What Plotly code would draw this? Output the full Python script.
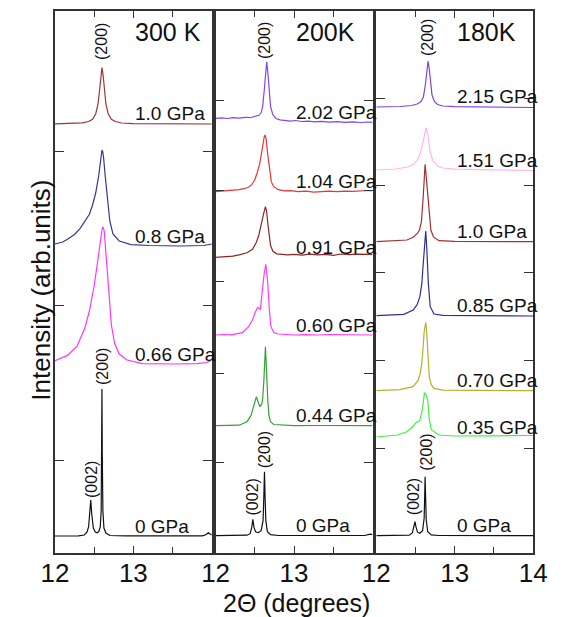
import plotly.graph_objects as go

# ---------------- data (2-theta in degrees, intensity in arb. units) ----------------
# 300 K panel
P300_LABELS = ["1.0 GPa", "0.8 GPa", "0.66 GPa", "0 GPa"]
P300_OFFSETS = [42.9, 30.7, 18.9, 1.7]
P300_X = [
    [12.00, 12.20, 12.35, 12.43, 12.48, 12.52, 12.55, 12.57, 12.585, 12.60, 12.615, 12.63, 12.65, 12.68, 12.72, 12.77, 12.85, 13.00, 13.40, 14.00],
    [12.00, 12.10, 12.16, 12.25, 12.32, 12.38, 12.44, 12.48, 12.52, 12.56, 12.58, 12.59, 12.60, 12.61, 12.62, 12.64, 12.66, 12.675, 12.70, 12.74, 12.82, 12.97, 13.20, 13.60, 13.90, 14.00],
    [12.00, 12.16, 12.28, 12.38, 12.44, 12.50, 12.54, 12.58, 12.60, 12.61, 12.62, 12.63, 12.66, 12.69, 12.72, 12.76, 12.82, 12.92, 13.12, 13.53, 13.81, 13.94, 14.00],
    [12.00, 12.30, 12.375, 12.41, 12.43, 12.445, 12.457, 12.47, 12.49, 12.515, 12.537, 12.56, 12.578, 12.59, 12.596, 12.60, 12.604, 12.612, 12.625, 12.65, 12.70, 12.90, 13.88, 13.93, 13.955, 13.98, 14.00],
]
P300_Y = [
    [0.02, 0.04, 0.11, 0.25, 0.48, 1.0, 2.0, 3.4, 4.85, 5.64, 4.85, 3.4, 2.0, 1.0, 0.48, 0.25, 0.1, 0.04, 0.01, 0.0],
    [0.2, 0.4, 0.67, 1.15, 1.74, 2.4, 3.17, 4.1, 5.3, 7.1, 8.5, 9.2, 9.6, 9.4, 8.9, 7.1, 5.5, 4.6, 2.5, 1.2, 0.5, 0.14, 0.05, 0.0, 0.05, 0.2],
    [0.33, 0.86, 1.76, 3.54, 5.3, 7.8, 9.97, 12.5, 13.4, 13.7, 13.6, 13.2, 10.3, 6.8, 3.9, 2.1, 1.0, 0.4, 0.04, 0.0, 0.04, 0.15, 0.4],
    [0.0, 0.02, 0.1, 0.4, 0.93, 2.2, 3.6, 2.2, 0.8, 0.4, 0.33, 0.45, 0.9, 2.5, 8.0, 14.7, 8.0, 2.5, 0.8, 0.3, 0.05, 0.02, 0.02, 0.15, 0.33, 0.2, 0.1],
]
P300_COLORS = ["#A03333", "#35359A", "#FF35FF", "#111111"]
P300_TICKS = [9.3, 24.75, 40.2]

# 200 K panel
P200_LABELS = ["2.02 GPa", "1.04 GPa", "0.91 GPa", "0.60 GPa", "0.44 GPa", "0 GPa"]
P200_OFFSETS = [43.07, 36.13, 29.57, 21.8, 12.73, 1.73]
P200_X = [
    [12.00, 12.08, 12.15, 12.22, 12.30, 12.38, 12.45, 12.50, 12.55, 12.58, 12.60, 12.62, 12.635, 12.652, 12.67, 12.685, 12.70, 12.73, 12.77, 12.82, 12.88, 12.95, 13.02, 13.10, 13.18, 13.26, 13.35, 13.45, 13.55, 13.65, 13.75, 13.85, 13.93, 14.00],
    [12.00, 12.08, 12.15, 12.22, 12.30, 12.36, 12.42, 12.46, 12.50, 12.53, 12.56, 12.58, 12.60, 12.62, 12.632, 12.645, 12.66, 12.675, 12.69, 12.71, 12.74, 12.80, 12.88, 12.96, 13.05, 13.15, 13.25, 13.35, 13.45, 13.55, 13.65, 13.75, 13.85, 13.93, 14.00],
    [12.00, 12.08, 12.15, 12.22, 12.30, 12.36, 12.40, 12.47, 12.52, 12.55, 12.58, 12.61, 12.635, 12.65, 12.665, 12.68, 12.70, 12.73, 12.78, 12.85, 12.92, 13.00, 13.10, 13.20, 13.30, 13.40, 13.50, 13.60, 13.70, 13.80, 13.90, 14.00],
    [12.00, 12.10, 12.20, 12.28, 12.34, 12.42, 12.47, 12.50, 12.535, 12.57, 12.60, 12.62, 12.64, 12.665, 12.685, 12.705, 12.745, 12.80, 12.90, 13.00, 13.15, 13.30, 13.45, 13.60, 13.75, 13.90, 14.00],
    [12.00, 12.15, 12.30, 12.40, 12.45, 12.48, 12.505, 12.52, 12.54, 12.565, 12.59, 12.60, 12.615, 12.628, 12.635, 12.645, 12.655, 12.665, 12.68, 12.70, 12.74, 12.85, 13.00, 13.30, 13.60, 14.00],
    [12.00, 12.40, 12.44, 12.46, 12.475, 12.49, 12.51, 12.545, 12.58, 12.605, 12.615, 12.623, 12.63, 12.64, 12.66, 12.70, 12.80, 13.90, 13.97, 14.00],
]
P200_Y = [
    [0.40, 0.45, 0.38, 0.46, 0.42, 0.50, 0.48, 0.58, 0.70, 0.95, 1.6, 3.2, 5.0, 6.06, 4.6, 2.9, 1.6, 0.75, 0.38, 0.25, 0.20, 0.12, 0.18, 0.08, 0.12, 0.05, 0.10, 0.02, 0.06, 0.0, 0.04, -0.02, 0.03, 0.0],
    [0.0, 0.04, 0.08, 0.1, 0.2, 0.3, 0.45, 0.7, 1.2, 1.9, 2.7, 3.6, 4.6, 5.5, 5.67, 5.2, 4.0, 2.9, 1.9, 1.0, 0.5, 0.2, 0.08, 0.1, 0.0, 0.05, -0.05, 0.02, 0.05, 0.0, 0.06, 0.04, 0.1, 0.12, 0.1],
    [0.0, 0.05, 0.02, 0.12, 0.25, 0.35, 0.45, 0.8, 1.5, 2.2, 3.4, 4.3, 5.06, 4.6, 3.4, 2.3, 1.2, 0.6, 0.35, 0.3, 0.25, 0.3, 0.22, 0.32, 0.25, 0.3, 0.2, 0.33, 0.27, 0.32, 0.28, 0.3],
    [0.0, 0.05, 0.02, 0.12, 0.23, 0.83, 1.5, 2.17, 2.77, 2.57, 4.83, 6.2, 7.07, 5.17, 2.5, 0.83, 0.23, 0.1, 0.05, 0.0, 0.04, 0.0, 0.05, 0.02, 0.0, 0.03, 0.0],
    [0.0, 0.02, 0.05, 0.4, 1.0, 1.8, 2.7, 2.9, 2.4, 1.9, 2.2, 2.7, 4.5, 6.8, 7.9, 6.3, 4.0, 2.6, 1.0, 0.4, 0.12, 0.05, 0.0, 0.02, 0.0, 0.0],
    [0.0, 0.05, 0.2, 0.8, 1.63, 0.8, 0.4, 0.3, 0.5, 1.5, 4.0, 6.4, 4.0, 1.5, 0.4, 0.1, 0.02, 0.02, 0.15, 0.1],
]
P200_COLORS = ["#8444E6", "#E83535", "#8E2626", "#FF3AFF", "#35A035", "#111111"]
P200_TICKS = [9.1, 18.0, 27.2, 36.3, 45.3]

# 180 K panel
P180_LABELS = ["2.15 GPa", "1.51 GPa", "1.0 GPa", "0.85 GPa", "0.70 GPa", "0.35 GPa", "0 GPa"]
P180_OFFSETS = [44.6, 38.3, 31.13, 23.73, 16.23, 11.6, 1.73]
P180_X = [
    [12.00, 12.30, 12.45, 12.52, 12.57, 12.60, 12.625, 12.645, 12.66, 12.675, 12.69, 12.71, 12.74, 12.78, 12.85, 13.00, 14.00],
    [12.00, 12.25, 12.40, 12.48, 12.53, 12.56, 12.59, 12.61, 12.635, 12.655, 12.67, 12.685, 12.70, 12.73, 12.78, 12.85, 13.00, 13.50, 14.00],
    [12.00, 12.30, 12.39, 12.47, 12.52, 12.55, 12.575, 12.595, 12.61, 12.622, 12.635, 12.65, 12.66, 12.675, 12.695, 12.73, 12.80, 13.00, 14.00],
    [12.00, 12.25, 12.35, 12.47, 12.52, 12.555, 12.58, 12.595, 12.615, 12.63, 12.645, 12.663, 12.687, 12.735, 12.85, 14.00],
    [12.00, 12.30, 12.47, 12.53, 12.56, 12.58, 12.594, 12.61, 12.63, 12.643, 12.655, 12.675, 12.70, 12.735, 12.85, 14.00],
    [12.00, 12.15, 12.27, 12.39, 12.473, 12.505, 12.554, 12.586, 12.60, 12.614, 12.635, 12.655, 12.675, 12.703, 12.80, 13.00, 13.50, 14.00],
    [12.00, 12.42, 12.46, 12.48, 12.493, 12.505, 12.525, 12.554, 12.59, 12.61, 12.617, 12.622, 12.628, 12.636, 12.655, 12.70, 12.80, 14.00],
]
P180_Y = [
    [0.0, 0.05, 0.15, 0.3, 0.55, 1.0, 2.2, 3.8, 4.6, 3.8, 2.4, 1.2, 0.55, 0.25, 0.1, 0.03, -0.05],
    [0.0, 0.1, 0.3, 0.6, 1.1, 1.67, 2.6, 3.5, 4.23, 3.6, 2.6, 1.9, 1.4, 0.8, 0.4, 0.2, 0.08, 0.02, -0.05],
    [0.0, 0.08, 0.17, 0.45, 0.8, 1.17, 2.0, 4.17, 6.6, 7.73, 6.6, 5.0, 4.17, 2.4, 1.17, 0.45, 0.1, 0.03, 0.0],
    [0.0, 0.05, 0.13, 0.57, 1.1, 1.9, 3.2, 4.9, 7.0, 8.47, 6.5, 3.23, 0.9, 0.17, 0.03, -0.03],
    [0.0, 0.1, 0.4, 1.0, 1.73, 2.8, 4.07, 5.9, 6.83, 5.8, 4.07, 1.4, 0.6, 0.23, 0.05, 0.0],
    [0.0, 0.08, 0.2, 0.53, 1.1, 1.43, 1.63, 2.7, 3.7, 4.43, 4.2, 3.7, 1.7, 0.7, 0.2, 0.1, 0.12, 0.15],
    [0.0, 0.05, 0.3, 0.9, 1.4, 0.9, 0.35, 0.24, 0.5, 1.8, 4.0, 5.9, 4.0, 1.6, 0.4, 0.08, 0.02, 0.0],
]
P180_COLORS = ["#7C42DA", "#FFB5F3", "#A33030", "#2E2E98", "#B2B232", "#45EE45", "#111111"]
P180_TICKS = [10.5, 19.3, 28.1, 36.8, 45.5]

TEMPS = ["300 K", "200K", "180K"]
X_TICKS = [12, 13, 14]
X_MINOR = [12.5, 13.5]
Y_RANGE = [0, 54.2]

# peak annotations: (panel, text, x, y) in data units
PEAK_LABELS = [
    (0, "(200)", 12.60, 51.2), (0, "(200)", 12.60, 18.7), (0, "(002)", 12.46, 7.4),
    (1, "(200)", 12.63, 51.2), (1, "(200)", 12.62, 10.3), (1, "(002)", 12.47, 5.6),
    (2, "(200)", 12.66, 51.5), (2, "(200)", 12.63, 10.1), (2, "(002)", 12.47, 5.6),
]

# ---------------- figure ----------------
W, H = 571, 617
FONT = "Liberation Sans, Arial, sans-serif"
panel_px = [(43, 208), (212, 377), (381, 546)]
y_top, y_bot = 11, 553

fig = go.Figure()
panels = [
    (P300_LABELS, P300_OFFSETS, P300_X, P300_Y, P300_COLORS, P300_TICKS),
    (P200_LABELS, P200_OFFSETS, P200_X, P200_Y, P200_COLORS, P200_TICKS),
    (P180_LABELS, P180_OFFSETS, P180_X, P180_Y, P180_COLORS, P180_TICKS),
]

annotations = []
for i, (labels, offsets, xs, ys, colors, yticks) in enumerate(panels):
    sfx = "" if i == 0 else str(i + 1)
    for lab, off, xv, yv, col in zip(labels, offsets, xs, ys, colors):
        fig.add_trace(go.Scatter(
            x=xv, y=[off + v for v in yv], mode="lines",
            line=dict(color=col, width=1.2), xaxis="x" + sfx, yaxis="y" + sfx,
            showlegend=False, hoverinfo="skip"))
        annotations.append(dict(
            x=13.0, y=off + 1.0, xref="x" + sfx, yref="y" + sfx, text=lab,
            showarrow=False, xanchor="left", yanchor="middle",
            font=dict(family=FONT, size=19, color="#111")))
    annotations.append(dict(
        x=13.0, y=Y_RANGE[1] - 2.1, xref="x" + sfx, yref="y" + sfx, text=TEMPS[i],
        showarrow=False, xanchor="left", yanchor="middle",
        font=dict(family=FONT, size=25, color="#111")))

    x0, x1 = panel_px[i]
    ticktext = ["12", "13", "14" if i == 2 else ""]
    fig.update_layout(**{
        "xaxis" + sfx: dict(
            domain=[x0 / W, x1 / W], range=[12, 14], anchor="y" + sfx,
            tickvals=X_TICKS, ticktext=ticktext, ticks="inside", ticklen=7,
            tickwidth=1.3, tickcolor="#333", showline=True, linecolor="#333",
            linewidth=1.6, mirror="ticks", showgrid=False, zeroline=False,
            ticklabelstandoff=-4,
            minor=dict(tickvals=X_MINOR, ticks="inside", ticklen=6, tickwidth=1.3,
                       tickcolor="#333", showgrid=False),
            tickfont=dict(family=FONT, size=26, color="#111")),
        "yaxis" + sfx: dict(
            domain=[1 - y_bot / H, 1 - y_top / H], range=Y_RANGE, anchor="x" + sfx,
            tickvals=yticks, showticklabels=False, ticks="inside", ticklen=9,
            tickwidth=1.3, tickcolor="#333", showline=True, linecolor="#333",
            linewidth=1.6, mirror="ticks", showgrid=False, zeroline=False),
    })

for (p, txt, xv, yv) in PEAK_LABELS:
    sfx = "" if p == 0 else str(p + 1)
    annotations.append(dict(
        x=xv, y=yv, xref="x" + sfx, yref="y" + sfx, text=txt, textangle=-90,
        showarrow=False, xanchor="center", yanchor="middle",
        font=dict(family=FONT, size=16, color="#111")))

annotations.append(dict(
    x=297 / W, y=1 - 603 / H, xref="paper", yref="paper", text="2\u0398 (degrees)",
    showarrow=False, xanchor="center", yanchor="middle",
    font=dict(family=FONT, size=25, color="#111")))
annotations.append(dict(
    x=28 / W, y=1 - 290 / H, xref="paper", yref="paper", text="Intensity (arb.units)",
    textangle=-90, showarrow=False, xanchor="center", yanchor="middle",
    font=dict(family=FONT, size=26, color="#111")))

fig.update_layout(
    width=W, height=H, margin=dict(l=0, r=0, t=0, b=0),
    paper_bgcolor="white", plot_bgcolor="white",
    annotations=annotations, showlegend=False,
)

fig.write_html("out.html")
